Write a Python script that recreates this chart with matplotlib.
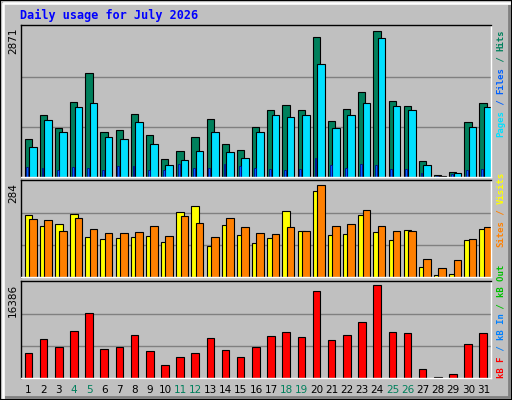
import numpy as np
import matplotlib
matplotlib.use('Agg')
import matplotlib.pyplot as plt
from matplotlib.patches import Rectangle

days = list(range(1, 32))
hits = [722, 1178, 931, 1425, 1976, 855, 893, 1197, 798, 342, 494, 760, 1102, 627, 513, 950,
        1273, 1368, 1273, 2679, 1064, 1292, 1615, 2793, 1444, 1349, 304, 38, 95, 1045, 1406]
files = [570, 1083, 855, 1330, 1406, 760, 722, 1045, 627, 228, 323, 494, 855, 475, 361, 855,
         1178, 1140, 1178, 2147, 931, 1178, 1406, 2660, 1349, 1273, 228, 19, 76, 950, 1330]
pages = [190, 171, 133, 190, 171, 133, 209, 209, 133, 133, 247, 171, 171, 247, 209, 171,
         152, 133, 152, 361, 228, 171, 247, 228, 152, 152, 76, 19, 57, 133, 152]
visits = [183, 151, 157, 186, 118, 113, 116, 118, 121, 104, 192, 210, 92, 154, 124, 101,
          116, 195, 136, 255, 124, 127, 183, 133, 110, 139, 31, 5, 8, 110, 142]
sites = [171, 168, 136, 174, 142, 130, 130, 133, 151, 121, 180, 160, 118, 174, 148, 130,
         127, 148, 136, 271, 151, 157, 198, 151, 136, 136, 54, 27, 51, 113, 148]
kbytes = [4212, 6636, 5251, 8020, 11136, 4904, 5251, 7328, 4558, 2135, 3520, 4212, 6809, 4731,
          3520, 5251, 7155, 7847, 6982, 14771, 6462, 7328, 9578, 15810, 7847, 7674, 1616, 173,
          750, 5770, 7674]
weekends = [4, 5, 11, 12, 18, 19, 25, 26]
max_hits, max_visits, max_kb = 2871, 284, 16386

W, H = 512, 400
fig = plt.figure(figsize=(W / 100, H / 100), dpi=100, facecolor='#c0c0c0')
font = dict(family='DejaVu Sans Mono', weight='bold')

def px_axes(x0, y0, x1, y1):
    return fig.add_axes([x0 / W, 1 - y1 / H, (x1 - x0) / W, (y1 - y0) / H])

# bevel frame
fig.patches.append(Rectangle((0, 0), 1, 1, transform=fig.transFigure, fill=False,
                             edgecolor='black', lw=1.5))
fig.patches.append(Rectangle((3 / W, 3 / H), (W - 6) / W, (H - 6) / H, transform=fig.transFigure,
                             fill=False, edgecolor='#808080', lw=2))
fig.lines.append(plt.Line2D([3 / W, 3 / W, (W - 3) / W], [3 / H, (H - 3) / H, (H - 3) / H],
                            transform=fig.transFigure, color='white', lw=2))

fig.text(20 / W, 1 - 15 / H, 'Daily usage for July 2026', color='#0000ff', fontsize=8.5,
         va='center', ha='left', **font)

x = np.array(days)

def setup(ax, ymax):
    ax.set_facecolor('#c0c0c0')
    ax.set_xlim(0.5, 31.5)
    ax.set_ylim(0, ymax * 1.01)
    for f in (1 / 3, 2 / 3):
        ax.axhline(ymax * f, color='#808080', lw=1, zorder=0)
    ax.set_xticks([])
    ax.set_yticks([])
    for s in ax.spines.values():
        s.set_linewidth(1)
    ax.spines['top'].set_color('black')
    ax.spines['left'].set_color('black')
    ax.spines['bottom'].set_color('white')
    ax.spines['right'].set_color('white')

kw = dict(align='edge', edgecolor='black', linewidth=0.8)

ax1 = px_axes(21, 25, 491, 177)
setup(ax1, max_hits)
ax1.bar(x - 0.26, hits, 0.48, color='#00805c', **kw)
ax1.bar(x + 0.03, files, 0.5, color='#00e0ff', **kw)
ax1.bar(x - 0.14, pages, 0.12, color='#0060ff', align='edge', edgecolor='#000080', linewidth=0.5)

ax2 = px_axes(21, 180, 491, 277)
setup(ax2, max_visits)
ax2.bar(x - 0.26, visits, 0.5, color='#ffff00', **kw)
ax2.bar(x + 0.03, sites, 0.5, color='#ff8000', **kw)

ax3 = px_axes(21, 281, 491, 378)
setup(ax3, max_kb)
ax3.bar(x - 0.26, kbytes, 0.5, color='#ff0000', **kw)

for top, m in ((28, max_hits), (183, max_visits), (284, max_kb)):
    fig.text(13 / W, 1 - top / H, str(m), rotation=90, ha='center', va='top',
             fontsize=7.5, color='black', family='DejaVu Sans')

for d in days:
    ax3.text(d, -0.12, str(d), transform=ax3.get_xaxis_transform(), ha='center', va='center',
             fontsize=7.5, color='#00805c' if d in weekends else 'black', family='DejaVu Sans')

renderer = fig.canvas.get_renderer()

def side_label(parts, ybottom):
    y = ybottom
    for txt, col in parts:
        t = fig.text(501 / W, 1 - y / H, txt, rotation=90, ha='center', va='bottom', color=col,
                     fontsize=6.5, **font)
        y -= t.get_window_extent(renderer).height

side_label([('Pages', '#00e0ff'), (' / ', '#0060ff'), ('Files', '#0060ff'), (' / ', '#00805c'),
            ('Hits', '#00805c')], 137)
side_label([('Sites', '#ff8000'), (' / ', '#ff8000'), ('Visits', '#ffff00')], 247)
side_label([('kB F', '#ff0000'), (' / ', '#0080ff'), ('kB In', '#0080ff'), (' / ', '#00c000'),
            ('kB Out', '#00c000')], 378)

fig.savefig('out.png', dpi=100, facecolor='#c0c0c0')
